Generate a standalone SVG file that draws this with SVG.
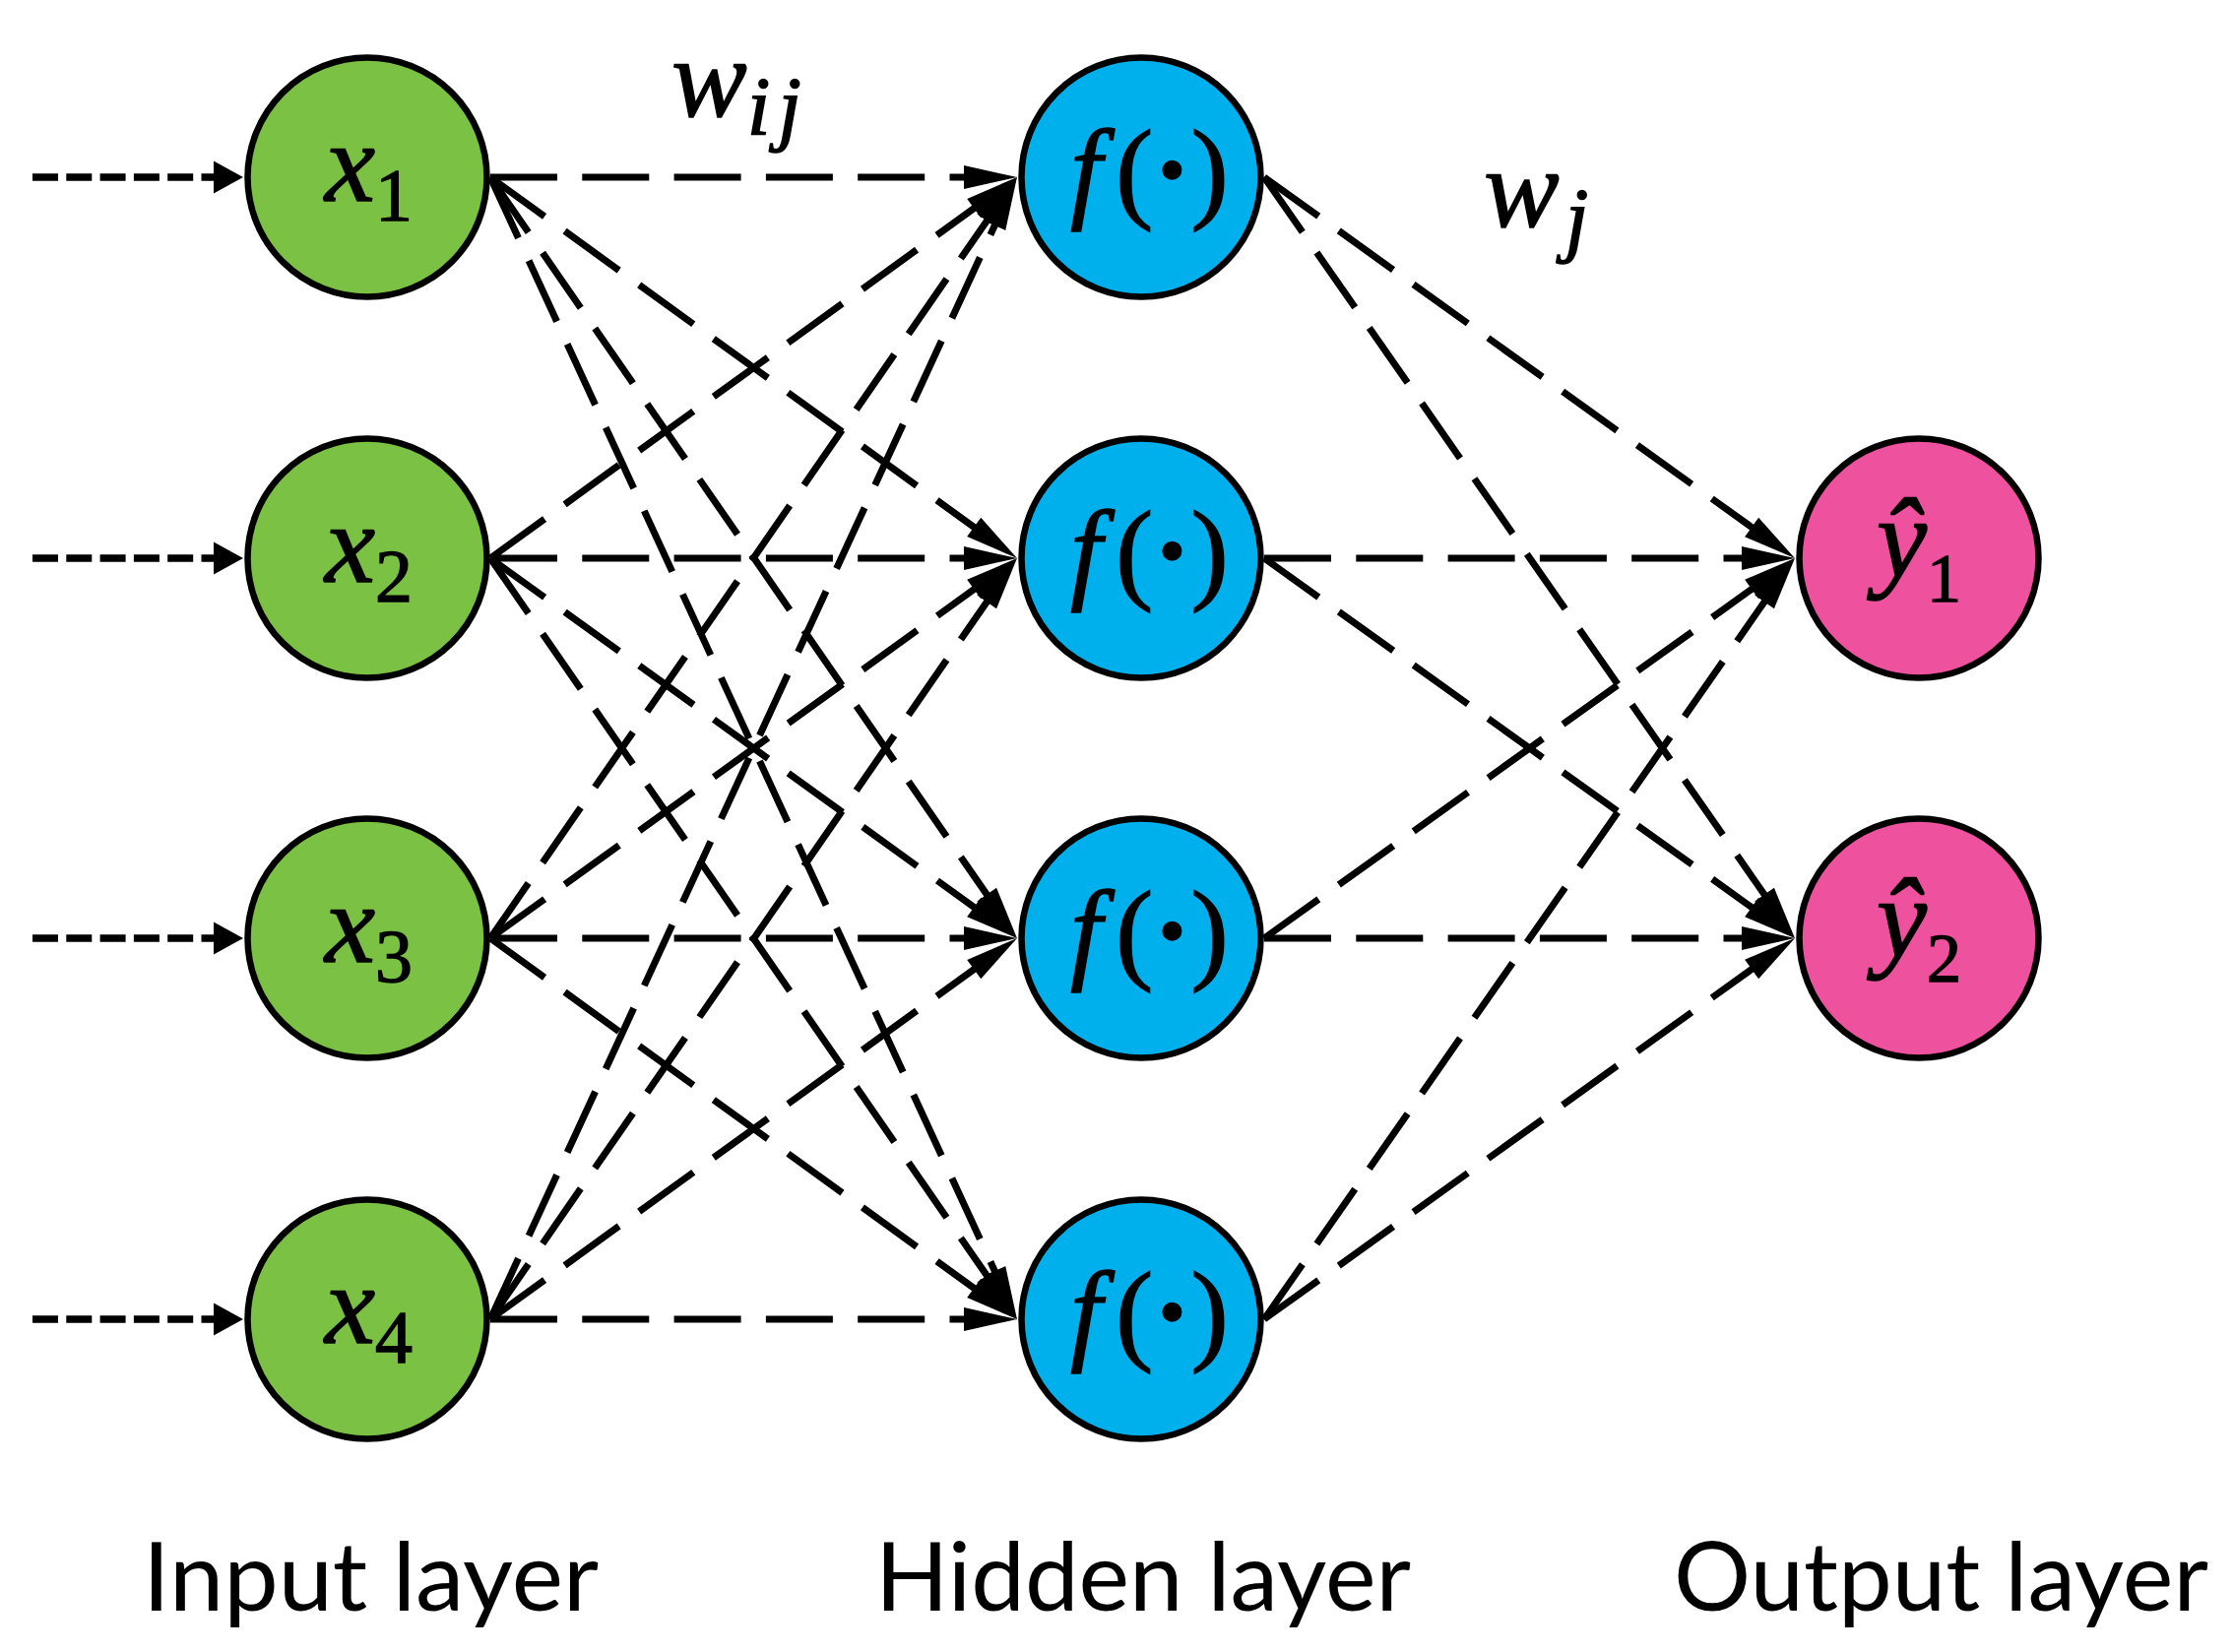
<svg xmlns="http://www.w3.org/2000/svg" width="2269" height="1678" viewBox="0 0 2269 1678">
<style>
.bg{fill:#ffffff}
.node{stroke:#000;stroke-width:6.5}
.in{fill:#7BC143}
.hid{fill:#00B0EC}
.out{fill:#EE519E}
.long{stroke:#000;stroke-width:7;fill:none;stroke-dasharray:68 25.3;marker-end:url(#ah)}
.short{stroke:#000;stroke-width:7.3;fill:none;stroke-dasharray:26 8.3;marker-end:url(#ahs)}
.m{font-family:"Liberation Serif","Times New Roman",serif;fill:#000;stroke:#000;stroke-width:1.4}
.it{font-style:italic}
.lbl{font-family:Lato,"Open Sans",sans-serif;font-size:96px;fill:#000}
</style>
<defs>
<marker id="ah" markerUnits="userSpaceOnUse" viewBox="0 0 54 24" markerWidth="54" markerHeight="24" refX="14" refY="12" orient="auto" overflow="visible">
<path d="M0,0 L54,12 L0,24 Z" fill="#000"/>
</marker>
<marker id="ahs" markerUnits="userSpaceOnUse" viewBox="0 0 30 33" markerWidth="30" markerHeight="33" refX="18" refY="16.5" orient="auto" overflow="visible">
<path d="M0,0 L30,16.5 L0,33 Z" fill="#000"/>
</marker>
</defs>
<rect class="bg" x="0" y="0" width="2269" height="1678"/>
<g id="connectors">
<line class="short" x1="33" y1="180" x2="235" y2="180"/>
<line class="short" x1="33" y1="567" x2="235" y2="567"/>
<line class="short" x1="33" y1="953" x2="235" y2="953"/>
<line class="short" x1="33" y1="1340" x2="235" y2="1340"/>
<line class="long" x1="498" y1="180" x2="993" y2="180"/>
<line class="long" x1="498" y1="180" x2="1000.6" y2="543.6"/>
<line class="long" x1="498" y1="180" x2="1010.2" y2="920.1"/>
<line class="long" x1="498" y1="180" x2="1016.2" y2="1303.7"/>
<line class="long" x1="498" y1="567" x2="1000.6" y2="203.4"/>
<line class="long" x1="498" y1="567" x2="993" y2="567"/>
<line class="long" x1="498" y1="567" x2="1000.6" y2="929.6"/>
<line class="long" x1="498" y1="567" x2="1010.2" y2="1307.1"/>
<line class="long" x1="498" y1="953" x2="1010.2" y2="212.9"/>
<line class="long" x1="498" y1="953" x2="1000.6" y2="590.4"/>
<line class="long" x1="498" y1="953" x2="993" y2="953"/>
<line class="long" x1="498" y1="953" x2="1000.6" y2="1316.6"/>
<line class="long" x1="498" y1="1340" x2="1016.2" y2="216.3"/>
<line class="long" x1="498" y1="1340" x2="1010.2" y2="599.9"/>
<line class="long" x1="498" y1="1340" x2="1000.6" y2="976.4"/>
<line class="long" x1="498" y1="1340" x2="993" y2="1340"/>
<line class="long" x1="1284" y1="180" x2="1790.5" y2="543.7"/>
<line class="long" x1="1284" y1="180" x2="1800.1" y2="920.2"/>
<line class="long" x1="1284" y1="567" x2="1783" y2="567"/>
<line class="long" x1="1284" y1="567" x2="1790.5" y2="929.7"/>
<line class="long" x1="1284" y1="953" x2="1790.5" y2="590.3"/>
<line class="long" x1="1284" y1="953" x2="1783" y2="953"/>
<line class="long" x1="1284" y1="1340" x2="1800.1" y2="599.8"/>
<line class="long" x1="1284" y1="1340" x2="1790.5" y2="976.3"/>
</g>
<g id="x1"><circle class="node in" cx="373" cy="180" r="121.5"/><text class="m" x="330" y="204" font-size="115"><tspan class="it">x</tspan><tspan font-size="76" dy="20">1</tspan></text></g>
<g id="x2"><circle class="node in" cx="373" cy="567" r="121.5"/><text class="m" x="330" y="591" font-size="115"><tspan class="it">x</tspan><tspan font-size="76" dy="20">2</tspan></text></g>
<g id="x3"><circle class="node in" cx="373" cy="953" r="121.5"/><text class="m" x="330" y="977" font-size="115"><tspan class="it">x</tspan><tspan font-size="76" dy="20">3</tspan></text></g>
<g id="x4"><circle class="node in" cx="373" cy="1340" r="121.5"/><text class="m" x="330" y="1364" font-size="115"><tspan class="it">x</tspan><tspan font-size="76" dy="20">4</tspan></text></g>
<g id="h1"><circle class="node hid" cx="1159" cy="180" r="121.5"/><text class="m" x="1087" y="211" font-size="115"><tspan class="it">f</tspan><tspan dx="14">(</tspan><tspan font-weight="bold">·</tspan><tspan>)</tspan></text></g>
<g id="h2"><circle class="node hid" cx="1159" cy="567" r="121.5"/><text class="m" x="1087" y="598" font-size="115"><tspan class="it">f</tspan><tspan dx="14">(</tspan><tspan font-weight="bold">·</tspan><tspan>)</tspan></text></g>
<g id="h3"><circle class="node hid" cx="1159" cy="953" r="121.5"/><text class="m" x="1087" y="984" font-size="115"><tspan class="it">f</tspan><tspan dx="14">(</tspan><tspan font-weight="bold">·</tspan><tspan>)</tspan></text></g>
<g id="h4"><circle class="node hid" cx="1159" cy="1340" r="121.5"/><text class="m" x="1087" y="1371" font-size="115"><tspan class="it">f</tspan><tspan dx="14">(</tspan><tspan font-weight="bold">·</tspan><tspan>)</tspan></text></g>
<g id="y1"><circle class="node out" cx="1949" cy="567" r="121.5"/><text class="m" x="1906" y="586" font-size="115"><tspan class="it">ŷ</tspan><tspan font-size="70" dy="25">1</tspan></text></g>
<g id="y2"><circle class="node out" cx="1949" cy="953" r="121.5"/><text class="m" x="1906" y="972" font-size="115"><tspan class="it">ŷ</tspan><tspan font-size="70" dy="25">2</tspan></text></g>
<g id="weights">
<text class="m" x="682" y="118" font-size="115"><tspan class="it">w</tspan><tspan class="it" font-size="85" dy="19">i</tspan><tspan class="it" font-size="85" dx="8">j</tspan></text>
<text class="m" x="1507" y="230" font-size="115"><tspan class="it">w</tspan><tspan class="it" font-size="85" dx="6" dy="20">j</tspan></text>
</g>
<g id="labels">
<text class="lbl" x="145" y="1636" textLength="463" lengthAdjust="spacingAndGlyphs">Input layer</text>
<text class="lbl" x="889" y="1636" textLength="544" lengthAdjust="spacingAndGlyphs">Hidden layer</text>
<text class="lbl" x="1700" y="1636" textLength="543" lengthAdjust="spacingAndGlyphs">Output layer</text>
</g>
</svg>
